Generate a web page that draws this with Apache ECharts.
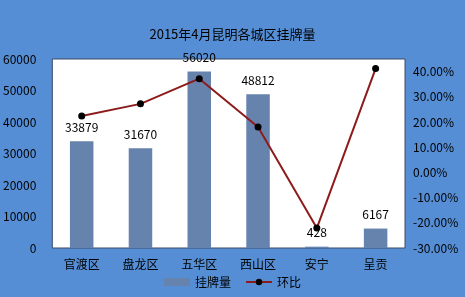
<!DOCTYPE html>
<html>
<head>
<meta charset="utf-8">
<script src="https://cdn.jsdelivr.net/npm/echarts@6/dist/echarts.min.js"></script>
<style>
html, body { margin: 0; padding: 0; background: #558ed5; }
#main { width: 465px; height: 297px; }
</style>
</head>
<body>
<div id="main"></div>
<script>
// 数据
var districts = ['官渡区', '盘龙区', '五华区', '西山区', '安宁', '呈贡'];
var listings = [33879, 31670, 56020, 48812, 428, 6167];
var ratio = [22.4, 27.2, 37.2, 18.0, -22.1, 41.2];   // 环比 %

var FONT = '"Noto Sans CJK SC", sans-serif';

var chart = echarts.init(document.getElementById('main'));
chart.setOption({
	backgroundColor: '#558ed5',
	animation: false,
	title: {
		text: '2015年4月昆明各城区挂牌量',
		left: 'center',
		top: 23,
		textStyle: { color: '#000', fontSize: 13, fontWeight: 'normal', fontFamily: FONT }
	},
	legend: {
		bottom: 4,
		left: 'center',
		itemWidth: 26,
		itemHeight: 8,
		itemGap: 14,
		textStyle: { color: '#000', fontSize: 12, fontFamily: FONT },
		data: [
			{ name: '挂牌量', icon: 'rect' },
			{ name: '环比' }
		]
	},
	grid: {
		left: 48, right: 60, top: 59, bottom: 49,
		show: true,
		backgroundColor: '#fff',
		borderColor: '#3a4a66',
		borderWidth: 1
	},
	xAxis: {
		type: 'category',
		data: districts,
		axisLine: { show: false },
		axisTick: { show: false },
		axisLabel: { color: '#000', fontSize: 12, margin: 10, fontFamily: FONT }
	},
	yAxis: [
		{
			type: 'value',
			min: 0, max: 60000, interval: 10000,
			axisLine: { show: false },
			axisTick: { show: false },
			splitLine: { show: false },
			axisLabel: {
				color: '#000', fontSize: 12, margin: 16, fontFamily: FONT,
				formatter: function (v) { return String(v); }
			}
		},
		{
			type: 'value',
			min: -30, max: 45, interval: 10,
			position: 'right',
			axisLine: { show: false },
			axisTick: { show: false },
			splitLine: { show: false },
			axisLabel: {
				color: '#000', fontSize: 12, margin: 8, fontFamily: FONT,
				showMaxLabel: false,
				formatter: function (v) { return v.toFixed(2) + '%'; }
			}
		}
	],
	series: [
		{
			name: '挂牌量',
			type: 'bar',
			data: listings,
			barWidth: '40%',
			itemStyle: { color: '#6583ad' },
			label: { show: true, position: 'top', distance: 8, color: '#000', fontSize: 12, fontFamily: FONT }
		},
		{
			name: '环比',
			type: 'line',
			yAxisIndex: 1,
			data: ratio,
			symbol: 'circle',
			symbolSize: 7,
			lineStyle: { color: '#8e1b1b', width: 2 },
			itemStyle: { color: '#000' }
		}
	]
});
</script>
</body>
</html>
